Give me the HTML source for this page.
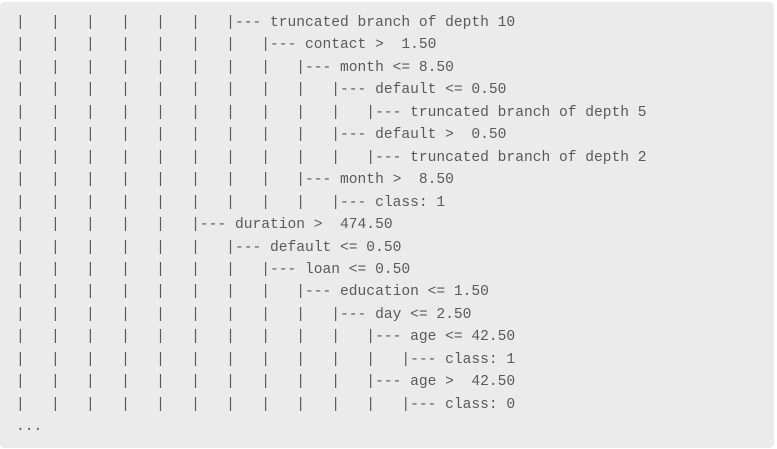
<!DOCTYPE html>
<html><head><style>
html,body{margin:0;padding:0;background:#fff;width:777px;height:449px;overflow:hidden}
.box{position:absolute;left:0;top:2px;width:774px;height:446px;background:#ebebeb;border-radius:4px}
pre{position:absolute;left:16px;top:12px;margin:0;font-family:"Liberation Mono",monospace;font-size:14.6px;line-height:22.45px;color:#5a5a5a;white-space:pre}
</style></head><body><div class="box"></div><pre>|   |   |   |   |   |   |--- truncated branch of depth 10
|   |   |   |   |   |   |   |--- contact &gt;  1.50
|   |   |   |   |   |   |   |   |--- month &lt;= 8.50
|   |   |   |   |   |   |   |   |   |--- default &lt;= 0.50
|   |   |   |   |   |   |   |   |   |   |--- truncated branch of depth 5
|   |   |   |   |   |   |   |   |   |--- default &gt;  0.50
|   |   |   |   |   |   |   |   |   |   |--- truncated branch of depth 2
|   |   |   |   |   |   |   |   |--- month &gt;  8.50
|   |   |   |   |   |   |   |   |   |--- class: 1
|   |   |   |   |   |--- duration &gt;  474.50
|   |   |   |   |   |   |--- default &lt;= 0.50
|   |   |   |   |   |   |   |--- loan &lt;= 0.50
|   |   |   |   |   |   |   |   |--- education &lt;= 1.50
|   |   |   |   |   |   |   |   |   |--- day &lt;= 2.50
|   |   |   |   |   |   |   |   |   |   |--- age &lt;= 42.50
|   |   |   |   |   |   |   |   |   |   |   |--- class: 1
|   |   |   |   |   |   |   |   |   |   |--- age &gt;  42.50
|   |   |   |   |   |   |   |   |   |   |   |--- class: 0
...</pre></body></html>
